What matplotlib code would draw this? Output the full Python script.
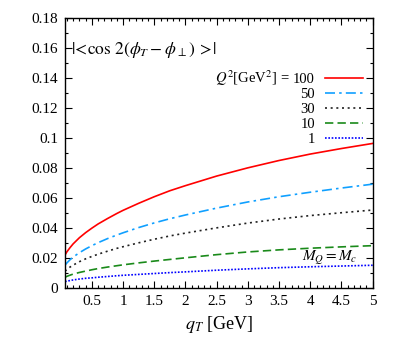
import matplotlib
matplotlib.use("Agg")
import matplotlib.pyplot as plt
from matplotlib.ticker import MultipleLocator

plt.rcParams['font.family'] = ['Liberation Serif', 'DejaVu Serif']
plt.rcParams['mathtext.fontset'] = 'stix'

qT = [0.07, 0.1, 0.15, 0.2, 0.3, 0.4, 0.5, 0.6, 0.75, 0.9, 1.0, 1.25, 1.5, 1.75,
      2.0, 2.5, 3.0, 3.5, 4.0, 4.5, 5.0]
q2_100 = [0.0218, 0.0239, 0.0267, 0.0292, 0.0333, 0.0367, 0.0397, 0.0425, 0.0461, 0.0495, 0.0516,
          0.0563, 0.0607, 0.0647, 0.0681, 0.0745, 0.0800, 0.0849, 0.0892, 0.0929, 0.0963]
q2_50 = [0.0150, 0.0165, 0.0186, 0.0204, 0.0233, 0.0258, 0.0280, 0.0300, 0.0327, 0.0351, 0.0366,
         0.0401, 0.0432, 0.0460, 0.0485, 0.0531, 0.0572, 0.0607, 0.0637, 0.0665, 0.0691]
q2_30 = [0.0110, 0.0121, 0.0137, 0.0150, 0.0173, 0.0192, 0.0208, 0.0223, 0.0243, 0.0262, 0.0273,
         0.0299, 0.0323, 0.0345, 0.0364, 0.0399, 0.0431, 0.0458, 0.0481, 0.0500, 0.0518]
q2_10 = [0.0069, 0.0075, 0.0083, 0.0090, 0.0101, 0.0110, 0.0119, 0.0127, 0.0137, 0.0146, 0.0152,
         0.0165, 0.0177, 0.0188, 0.0199, 0.0220, 0.0238, 0.0252, 0.0263, 0.0272, 0.0280]
q2_1 = [0.0040, 0.0043, 0.0047, 0.0051, 0.0057, 0.0062, 0.0065, 0.0069, 0.0074, 0.0079, 0.0082,
        0.0088, 0.0094, 0.0100, 0.0105, 0.0116, 0.0125, 0.0133, 0.0139, 0.0144, 0.0149]

labels = ["100", "50", "30", "10", "1"]
xticks = [0.5, 1, 1.5, 2, 2.5, 3, 3.5, 4, 4.5, 5]
xticklabels = ['0.5', '1', '1.5', '2', '2.5', '3', '3.5', '4', '4.5', '5']
yticks = [0, 0.02, 0.04, 0.06, 0.08, 0.1, 0.12, 0.14, 0.16, 0.18]
yticklabels = ['0', '0.02', '0.04', '0.06', '0.08', '0.1', '0.12', '0.14', '0.16', '0.18']

fig = plt.figure(figsize=(3.99, 3.49), dpi=100)
ax = fig.add_axes([0.163, 0.176, 0.771, 0.772])

ax.plot(qT, q2_100, color='#ff0000', lw=1.2, label=labels[0])
ax.plot(qT, q2_50, color='#10a0ff', lw=1.2, dashes=(6, 2.5, 1.5, 2.5), label=labels[1])
ax.plot(qT, q2_30, color='#202020', lw=1.2, dashes=(1.2, 2.2), label=labels[2])
ax.plot(qT, q2_10, color='#1a8a1a', lw=1.2, dashes=(5, 2.5), label=labels[3])
ax.plot(qT, q2_1, color='#0000ff', lw=1.2, dashes=(1, 1), label=labels[4])

ax.set_xlim(qT[0], 5)
ax.set_ylim(0, 0.18)
ax.xaxis.set_minor_locator(MultipleLocator(0.1))
ax.yaxis.set_minor_locator(MultipleLocator(0.01))
ax.set_xticks(xticks)
ax.set_xticklabels(xticklabels)
ax.set_yticks(yticks)
ax.set_yticklabels(yticklabels)
ax.tick_params(which='both', direction='in', top=True, right=True, labelsize=11, width=0.8)
ax.tick_params(which='major', length=5, pad=5)
ax.tick_params(which='minor', length=2.5)
for s in ax.spines.values():
    s.set_linewidth(1.0)

ax.set_xlabel(r"$q_T$ [GeV]", fontsize=13, labelpad=5)

ax.text(0.02, 0.88, r"$|\!<\!\cos\,2(\phi_T - \phi_\perp)\;>\!|$", transform=ax.transAxes,
        fontsize=12.5, ha='left', va='center')
ax.text(4.31, 0.0196, r"$M_Q = M_c$", fontsize=11, ha='center', va='center')

leg = ax.legend(loc='upper right', bbox_to_anchor=(0.969, 0.798), frameon=False, markerfirst=False,
                fontsize=10.5, handlelength=2.6, handletextpad=0.7, labelspacing=0.12,
                borderaxespad=0.0, borderpad=0.0)
ax.text(0.729, 0.777, r"$Q^2$[GeV$^2$] =", transform=ax.transAxes, fontsize=10.5,
        ha='right', va='center')

fig.savefig("out.png", dpi=100)
